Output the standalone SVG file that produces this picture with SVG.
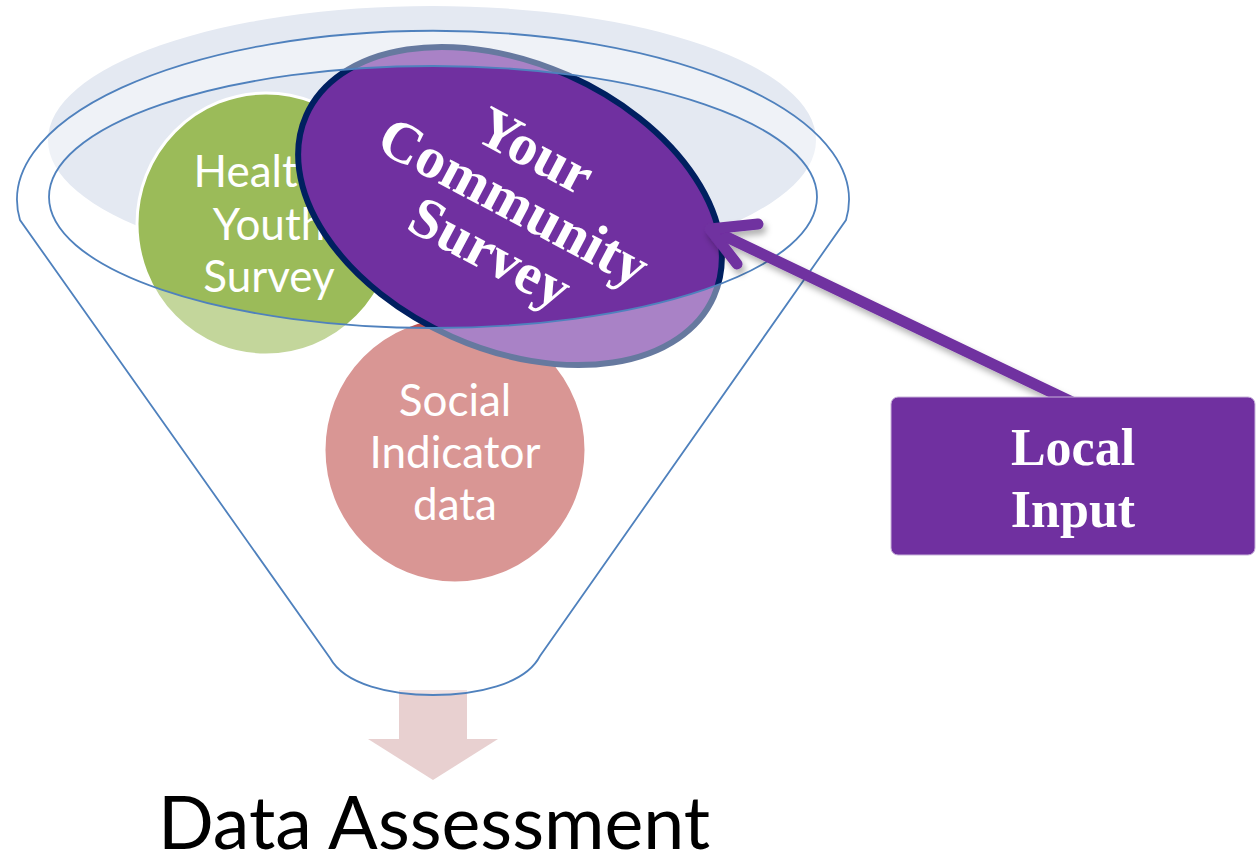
<svg xmlns="http://www.w3.org/2000/svg" width="1256" height="857" viewBox="0 0 1256 857">
  <defs>
    <style>
      .body { font-family: Lato, "Open Sans", sans-serif; fill: #ffffff; text-anchor: middle; }
      .bold { font-family: "Liberation Serif", "DejaVu Serif", serif; font-weight: bold; fill: #ffffff; text-anchor: middle; }
      .rim { fill: none; stroke: #4f81bd; stroke-width: 1.8; }
    </style>
    <filter id="shadow" x="-10%" y="-10%" width="130%" height="140%">
      <feDropShadow dx="3" dy="5" stdDeviation="3" flood-color="#000000" flood-opacity="0.3"/>
    </filter>
  </defs>

  <rect width="1256" height="857" fill="#ffffff"/>

  <!-- soft haze behind the funnel mouth -->
  <ellipse cx="432" cy="140" rx="384" ry="134" fill="#e4e9f2"/>

  <!-- output arrow under the funnel -->
  <polygon id="output-arrow" points="399,690 467,690 467,739 498,739 433,780 368,739 399,739" fill="#e8d0d0"/>

  <g id="healthy-youth-survey">
    <ellipse cx="266" cy="224" rx="129" ry="131" fill="#9bbb59" stroke="#ffffff" stroke-width="3"/>
    <text class="body" font-size="44" x="269" y="187">Healthy</text>
    <text class="body" font-size="44" x="269" y="240">Youth</text>
    <text class="body" font-size="44" x="269" y="292">Survey</text>
  </g>

  <g id="social-indicator-data">
    <ellipse cx="455" cy="450" rx="131" ry="133" fill="#c0504d" stroke="#ffffff" stroke-width="3"/>
    <text class="body" font-size="44" x="455" y="416">Social</text>
    <text class="body" font-size="44" x="455" y="468">Indicator</text>
    <text class="body" font-size="44" x="455" y="520">data</text>
  </g>

  <g id="your-community-survey">
    <ellipse cx="0" cy="0" rx="223" ry="143" transform="translate(510,206) rotate(24)" fill="#7030a0" stroke="#002060" stroke-width="6"/>
    <g transform="translate(511,207) rotate(28)">
      <text class="bold" font-size="58" x="-5" y="-42">Your</text>
      <text class="bold" font-size="58" x="0" y="13">Community</text>
      <text class="bold" font-size="58" x="3" y="69">Survey</text>
    </g>
  </g>

  <!-- funnel body: translucent white with the mouth left open -->
  <g id="funnel">
    <path fill="#ffffff" fill-opacity="0.4" fill-rule="evenodd"
      d="M20,220 A416,169 0 1 1 846,220 L540,656 C525,685 475,695 433,695 C391,695 345,685 330,658 Z
         M49,197 A384,131 0 1 0 817,197 A384,131 0 1 0 49,197 Z"/>
    <path class="rim" d="M20,220 A416,169 0 1 1 846,220 L540,656 C525,685 475,695 433,695 C391,695 345,685 330,658 Z"/>
    <ellipse class="rim" cx="433" cy="197" rx="384" ry="131"/>
  </g>

  <g id="connectors">
    <g filter="url(#shadow)" fill="none" stroke="#7030a0" stroke-width="11" stroke-linecap="round" stroke-linejoin="round">
      <line x1="1072" y1="402" x2="712" y2="230"/>
      <polyline points="758,224 710,229 737,264"/>
    </g>
  </g>

  <g id="local-input">
    <rect x="891" y="397" width="364" height="158" rx="7" fill="#7030a0" stroke="#c8b2da" stroke-width="1"/>
    <text class="bold" font-size="52" x="1073" y="465">Local</text>
    <text class="bold" font-size="52" x="1073" y="527">Input</text>
  </g>

  <text id="data-assessment" font-family="Lato, 'Open Sans', sans-serif" font-size="73.5" fill="#000000" text-anchor="middle" x="434" y="849">Data Assessment</text>
</svg>
